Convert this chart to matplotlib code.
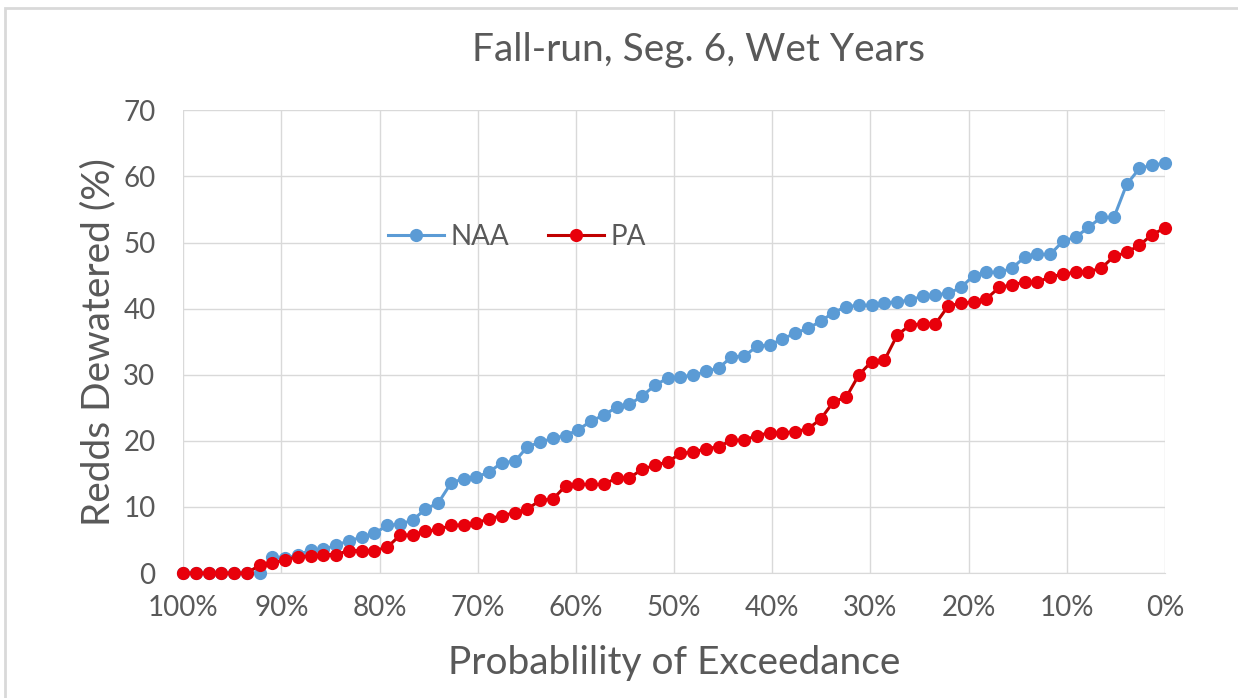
import numpy as np
import matplotlib
matplotlib.use("Agg")
import matplotlib.pyplot as plt
from matplotlib.ticker import FuncFormatter

#   Data (78 points, 100% -> 0%)
naa = [0, 0, 0, 0, 0, 0, 0, 2.5, 2.3, 2.7,
       3.5, 3.6, 4.2, 4.9, 5.4, 6.0, 7.2, 7.4, 8.0, 9.7,
       10.6, 13.6, 14.3, 14.5, 15.3, 16.7, 16.9, 19.1, 19.8, 20.4,
       20.8, 21.7, 23.0, 23.9, 25.1, 25.5, 26.8, 28.4, 29.5, 29.7,
       29.9, 30.5, 31.0, 32.7, 32.8, 34.3, 34.5, 35.4, 36.3, 37.0,
       38.1, 39.4, 40.3, 40.5, 40.5, 40.9, 41.0, 41.3, 41.9, 42.1,
       42.3, 43.2, 45.0, 45.5, 45.5, 46.1, 47.8, 48.2, 48.2, 50.2,
       50.8, 52.3, 53.8, 53.8, 58.8, 61.2, 61.7, 62.0]
pa = [0, 0, 0, 0, 0, 0, 1.2, 1.5, 2.0, 2.5,
      2.6, 2.8, 2.8, 3.4, 3.4, 3.4, 3.9, 5.7, 5.8, 6.3,
      6.6, 7.2, 7.3, 7.6, 8.2, 8.7, 9.1, 9.7, 11.0, 11.2,
      13.2, 13.4, 13.4, 13.4, 14.4, 14.4, 15.7, 16.3, 16.8, 18.1,
      18.3, 18.8, 19.1, 20.1, 20.1, 20.8, 21.2, 21.2, 21.4, 21.8,
      23.3, 25.9, 26.6, 30.0, 32.0, 32.2, 36.0, 37.5, 37.7, 37.7,
      40.4, 40.8, 41.0, 41.5, 43.2, 43.6, 44.0, 44.0, 44.8, 45.2,
      45.5, 45.6, 46.1, 47.9, 48.5, 49.6, 51.2, 52.2]
exceed = np.linspace(100, 0, len(naa))

x_ticks = [100, 90, 80, 70, 60, 50, 40, 30, 20, 10, 0]
y_ticks = [0, 10, 20, 30, 40, 50, 60, 70]

plt.rcParams['font.family'] = ['Lato', 'DejaVu Sans']
grey = '#595959'

fig = plt.figure(figsize=(12.38, 6.98), dpi=100)
ax = fig.add_axes([0.148, 0.179, 0.793, 0.663])

ax.plot(exceed, naa, color='#5B9BD5', linewidth=2.2, marker='o', markersize=9.5,
        markeredgewidth=0, label="NAA", clip_on=False, zorder=3)
ax.plot(exceed, pa, color='#C00000', linewidth=2.2, marker='o', markersize=9.5,
        markerfacecolor='#E8000B', markeredgewidth=0, label="PA", clip_on=False, zorder=4)

ax.set_xlim(100, 0)
ax.set_ylim(0, 70)
ax.set_xticks(x_ticks)
ax.set_yticks(y_ticks)
ax.xaxis.set_major_formatter(FuncFormatter(lambda v, p: "%d%%" % v))
ax.tick_params(length=0, labelsize=20, labelcolor=grey)
ax.tick_params(axis='x', pad=16)
ax.tick_params(axis='y', pad=20)
ax.grid(True, color='#d9d9d9', linewidth=1)
ax.set_axisbelow(True)
for s in ['top', 'right', 'left']:
    ax.spines[s].set_visible(False)
ax.spines['bottom'].set_color('#d9d9d9')

ax.set_xlabel("Probablility of Exceedance", fontsize=28, color=grey, labelpad=17)
ax.set_ylabel("Redds Dewatered (%)", fontsize=28, color=grey, labelpad=5)
fig.text(0.564, 0.928, "Fall-run, Seg. 6, Wet Years", fontsize=28, color=grey,
         ha='center', va='center')

ax.legend(loc='center', bbox_to_anchor=(0.34, 0.726), ncol=2, frameon=False,
          fontsize=20, labelcolor=grey, handlelength=2, handletextpad=0.25,
          columnspacing=1.4)

fig.patches.append(plt.Rectangle((0.004, -0.01), 1.2, 0.998, transform=fig.transFigure,
                                 fill=False, edgecolor='#d9d9d9', linewidth=2))

plt.savefig("out.png", dpi=100)
